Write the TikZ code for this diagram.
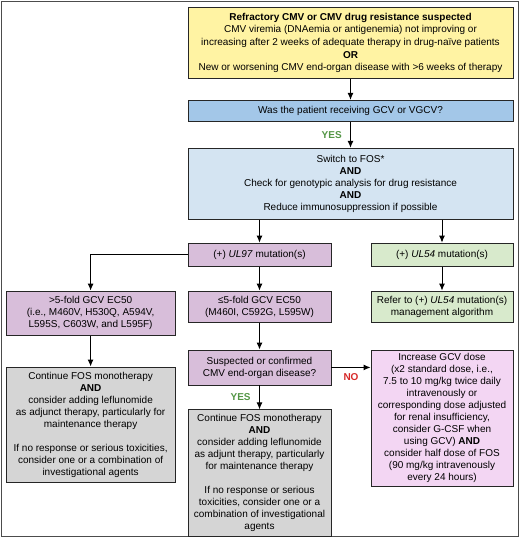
\documentclass[tikz,border=0pt]{standalone}
\usepackage{fontspec}
\setmainfont{Liberation Sans}
\usetikzlibrary{positioning, arrows.meta}

\definecolor{cmvyellow}{RGB}{255,243,163}
\definecolor{cmvblue}{RGB}{163,199,232}
\definecolor{cmvlight}{RGB}{212,228,242}
\definecolor{cmvpurple}{RGB}{216,190,218}
\definecolor{cmvgreen}{RGB}{216,234,204}
\definecolor{cmvpink}{RGB}{243,214,243}
\definecolor{cmvgray}{RGB}{213,213,213}
\definecolor{yesgreen}{RGB}{84,150,70}
\definecolor{nored}{RGB}{214,40,40}

\tikzset{
  box/.style={draw=black!85, line width=0.9pt, align=center, inner sep=2pt,
    font=\fontsize{10}{12}\selectfont},
  arr/.style={-{Latex[length=7pt,width=6pt]}, line width=1pt},
  yes/.style={font=\fontsize{10}{12}\selectfont\bfseries, text=yesgreen},
  no/.style={font=\fontsize{10}{12}\selectfont\bfseries, text=nored},
}

\begin{document}
\begin{tikzpicture}[x=1pt, y=1pt]
    \useasboundingbox (0,0) rectangle (520,-538);
    \draw[black!70, line width=1pt] (1,-1) rectangle (518,-536);

    \node[box, fill=cmvyellow, minimum width=325pt, minimum height=71pt, anchor=north,
          font=\fontsize{10}{12.6}\selectfont] (suspect) at (350.5,-7)
      {\textbf{Refractory CMV or CMV drug resistance suspected}\\
       CMV viremia (DNAemia or antigenemia) not improving or\\
       increasing after 2 weeks of adequate therapy in drug-naïve patients\\
       \textbf{OR}\\
       New or worsening CMV end-organ disease with >6 weeks of therapy};
    \node[box, fill=cmvblue, minimum width=325pt, minimum height=21pt, below = 21pt of suspect] (gcv)
      {Was the patient receiving GCV or VGCV?};
    \node[box, fill=cmvlight, minimum width=325pt, minimum height=71pt, below = 26pt of gcv] (fos)
      {Switch to FOS*\\
       \textbf{AND}\\
       Check for genotypic analysis for drug resistance\\
       \textbf{AND}\\
       Reduce immunosuppression if possible};

    \node[box, fill=cmvpurple, minimum width=143pt, minimum height=23pt, below right = 23pt and 0pt of fos.south west] (ul97)
      {(+) \textit{UL97} mutation(s)};
    \node[box, fill=cmvgreen, minimum width=142pt, minimum height=23pt, below left = 23pt and 0pt of fos.south east] (ul54)
      {(+) \textit{UL54} mutation(s)};

    \node[box, fill=cmvpurple, minimum width=143pt, minimum height=31pt, below = 24pt of ul97] (low)
      {≤5-fold GCV EC50\\
       (M460I, C592G, L595W)};
    \node[box, fill=cmvgreen, minimum width=142pt, minimum height=31pt, below = 24pt of ul54] (refer)
      {Refer to (+) \textit{UL54} mutation(s)\\
       management algorithm};
    \node[box, fill=cmvpurple, minimum width=169pt, minimum height=44pt, below left = 0pt and 12pt of low.north west] (high)
      {>5-fold GCV EC50\\
       (i.e., M460V, H530Q, A594V,\\
       L595S, C603W, and L595F)};

    \node[box, fill=cmvpurple, minimum width=143pt, minimum height=35pt, below = 27pt of low] (organ)
      {Suspected or confirmed\\
       CMV end-organ disease?};
    \node[box, fill=cmvpink, minimum width=142pt, minimum height=136pt, below = 27pt of refer] (dose)
      {Increase GCV dose\\
       (x2 standard dose, i.e.,\\
       7.5 to 10 mg/kg twice daily\\
       intravenously or\\
       corresponding dose adjusted\\
       for renal insufficiency,\\
       consider G-CSF when\\
       using GCV) \textbf{AND}\\
       consider half dose of FOS\\
       (90 mg/kg intravenously\\
       every 24 hours)};

    \node[box, fill=cmvgray, minimum width=169pt, minimum height=115pt, below = 31pt of high] (conthigh)
      {Continue FOS monotherapy\\
       \textbf{AND}\\
       consider adding leflunomide\\
       as adjunct therapy, particularly for\\
       maintenance therapy\\[12pt]
       If no response or serious toxicities,\\
       consider one or a combination of\\
       investigational agents};
    \node[box, fill=cmvgray, minimum width=143pt, minimum height=127pt, below = 24pt of organ] (contlow)
      {Continue FOS monotherapy\\
       \textbf{AND}\\
       consider adding leflunomide\\
       as adjunt therapy, particularly\\
       for maintenance therapy\\[12pt]
       If no response or serious\\
       toxicities, consider one or a\\
       combination of investigational\\
       agents};

    \draw[arr] (suspect) -- (gcv);
    \draw[arr] (gcv) -- node[yes, left = 5pt] {YES} (fos);
    \draw[arr] (ul97 |- fos.south) -- (ul97);
    \draw[arr] (ul54 |- fos.south) -- (ul54);
    \draw[arr] (ul97.west) -| (high);
    \draw[arr] (ul97) -- (low);
    \draw[arr] (ul54) -- (refer);
    \draw[arr] (high) -- (conthigh);
    \draw[arr] (low) -- (organ);
    \draw[arr] (organ) -- node[yes, left = 5pt] {YES} (contlow);
    \draw[arr] (organ) -- node[no, below = 2pt] {NO} (dose.west |- organ.east);
\end{tikzpicture}
\end{document}
